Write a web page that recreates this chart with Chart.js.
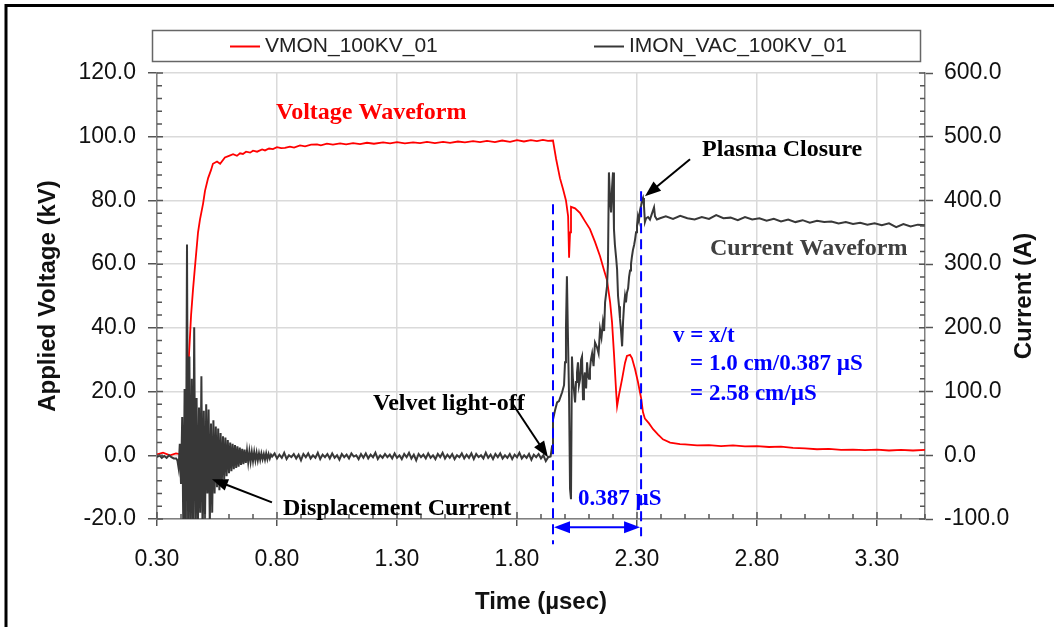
<!DOCTYPE html>
<html>
<head>
<meta charset="utf-8">
<script src="https://cdn.jsdelivr.net/npm/chart.js@4.4.1/dist/chart.umd.min.js"></script>
<style>
  html, body { margin: 0; padding: 0; background: #fff; }
  canvas { display: block; }
</style>
</head>
<body>
<canvas id="grafico" width="1054" height="627"></canvas>
<script>
// ==================== DATOS ====================
const serieVoltaje  = 'VMON_100KV_01';
const serieCorriente = 'IMON_VAC_100KV_01';

const xTicks  = [0.30, 0.80, 1.30, 1.80, 2.30, 2.80, 3.30];
const yTicks  = [-20, 0, 20, 40, 60, 80, 100, 120];
const y1Ticks = [-100, 0, 100, 200, 300, 400, 500, 600];

// Voltaje (kV)
const tVolt = [
  0.300, 0.325, 0.354, 0.379, 0.404, 0.421, 0.429, 0.433, 0.442, 0.450, 0.458, 0.471, 0.479, 0.492,
  0.500, 0.513, 0.525, 0.533, 0.550, 0.563, 0.583, 0.600,
  0.617, 0.633, 0.646, 0.658, 0.671, 0.688, 0.700, 0.717, 0.738, 0.750, 0.767, 0.783, 0.800, 0.817,
  0.833, 0.854, 0.871, 0.896, 0.917, 0.942, 0.967, 0.983, 1.008, 1.033, 1.063, 1.088, 1.117, 1.146,
  1.175, 1.204, 1.242, 1.271, 1.300, 1.333, 1.367, 1.396, 1.425, 1.458, 1.492, 1.521, 1.554, 1.583,
  1.617, 1.646, 1.675, 1.708, 1.738, 1.771, 1.800, 1.829, 1.858, 1.883, 1.908, 1.929, 1.950,
  1.963, 1.979, 1.992, 2.004, 2.013, 2.017, 2.021, 2.025, 2.042, 2.063, 2.083, 2.104, 2.125, 2.146,
  2.163, 2.175, 2.188, 2.196, 2.204, 2.213, 2.217, 2.225, 2.238, 2.250, 2.258, 2.271, 2.279, 2.292,
  2.304, 2.317, 2.325, 2.333, 2.350, 2.367, 2.388, 2.408, 2.438, 2.479,
  2.50, 2.55, 2.60, 2.65, 2.70, 2.75, 2.80, 2.85, 2.90, 2.95, 3.00, 3.05, 3.10, 3.15, 3.20, 3.25,
  3.30, 3.35, 3.40, 3.45, 3.50
];
const vVolt = [
  0.3, 0.8, 0.0, 0.6, 0.2, 1.0, 12, 31, 44, 52, 59, 70, 74, 79,
  83, 87, 89.5, 91.5, 92.2, 91.5, 93.5, 94.0,
  94.5, 94.0, 94.8, 94.6, 95.3, 95.0, 95.6, 95.3, 96.0, 95.7, 96.3, 96.1, 96.7, 96.4,
  96.5, 96.9, 96.6, 97.3, 97.0, 97.5, 97.6, 97.3, 97.8, 97.5, 97.9, 97.6, 98.0, 97.7,
  98.1, 97.8, 98.2, 97.9, 98.3, 97.9, 98.2, 98.0, 98.4, 98.0, 98.4, 98.1, 98.5, 98.2,
  98.6, 98.3, 98.7, 98.3, 98.8, 98.4, 98.9, 98.5, 98.9, 98.6, 99.0, 98.7, 98.8,
  93, 87, 83.5, 80, 75, 62, 70, 78, 77.5, 76, 73.5, 71, 67, 62.5,
  58, 55, 48, 41.7, 32, 20, 15.4, 19, 24, 29, 31.2, 31.5, 30.5, 27,
  23, 18, 13.5, 11.5, 10, 8.2, 6.5, 5, 4, 3.5,
  3.4, 3.1, 3.2, 2.9, 3.1, 2.8, 2.9, 2.6, 2.7, 2.3, 2.2, 1.9, 2.0, 1.7, 1.8, 1.6,
  1.8, 1.5, 1.7, 1.5, 1.7
];

// Corriente (A)
const tCorr = [
  0.300, 0.310, 0.320, 0.330, 0.340, 0.350, 0.360, 0.370, 0.380,
  0.385, 0.390, 0.395, 0.400, 0.405, 0.410, 0.415, 0.420, 0.425, 0.430, 0.435, 0.440, 0.445,
  0.450, 0.455, 0.460, 0.465, 0.470, 0.475, 0.480, 0.485, 0.490, 0.495, 0.500, 0.505, 0.510,
  0.515, 0.520, 0.525, 0.530, 0.535, 0.540, 0.545, 0.550, 0.555, 0.560, 0.565, 0.570, 0.575,
  0.580, 0.585, 0.590, 0.595, 0.600, 0.605, 0.610, 0.615, 0.620, 0.625, 0.630, 0.635, 0.640,
  0.645, 0.650, 0.655, 0.660, 0.665, 0.670, 0.675, 0.680, 0.685, 0.690, 0.695, 0.700, 0.705,
  0.710, 0.715, 0.720, 0.725, 0.730, 0.735, 0.740, 0.745, 0.750, 0.755, 0.760, 0.765, 0.770,
  0.775,
  0.78, 0.79, 0.80, 0.81, 0.82, 0.83, 0.84, 0.85, 0.86, 0.87,
  0.88, 0.89, 0.90, 0.91, 0.92, 0.93, 0.94, 0.95, 0.96, 0.97,
  0.98, 0.99, 1.00, 1.01, 1.02, 1.03, 1.04, 1.05, 1.06, 1.07,
  1.08, 1.09, 1.10, 1.11, 1.12, 1.13, 1.14, 1.15, 1.16, 1.17,
  1.18, 1.19, 1.20, 1.21, 1.22, 1.23, 1.24, 1.25, 1.26, 1.27,
  1.28, 1.29, 1.30, 1.31, 1.32, 1.33, 1.34, 1.35, 1.36, 1.37,
  1.38, 1.39, 1.40, 1.41, 1.42, 1.43, 1.44, 1.45, 1.46, 1.47,
  1.48, 1.49, 1.50, 1.51, 1.52, 1.53, 1.54, 1.55, 1.56, 1.57,
  1.58, 1.59, 1.60, 1.61, 1.62, 1.63, 1.64, 1.65, 1.66, 1.67,
  1.68, 1.69, 1.70, 1.71, 1.72, 1.73, 1.74, 1.75, 1.76, 1.77,
  1.78, 1.79, 1.80, 1.81, 1.82, 1.83, 1.84, 1.85, 1.86, 1.87,
  1.88, 1.89, 1.90, 1.91, 1.92, 1.93, 1.94,
  1.946, 1.950, 1.958, 1.967, 1.975, 1.988, 1.996, 2.000, 2.004, 2.008, 2.013, 2.017, 2.021,
  2.025, 2.029, 2.033, 2.038, 2.042, 2.046, 2.050, 2.054, 2.058, 2.063, 2.067, 2.071, 2.075,
  2.079, 2.083, 2.088, 2.092, 2.096, 2.100, 2.104, 2.108, 2.113, 2.119, 2.125, 2.133, 2.140,
  2.146, 2.152, 2.158, 2.163, 2.167, 2.175, 2.179, 2.183, 2.188, 2.192, 2.196,
  2.200, 2.204, 2.208, 2.213, 2.217, 2.221, 2.225, 2.229, 2.233, 2.238, 2.242, 2.246, 2.250,
  2.254, 2.258, 2.263, 2.267, 2.271, 2.275, 2.279, 2.283, 2.288, 2.292, 2.296, 2.300, 2.304,
  2.308, 2.313, 2.317, 2.321, 2.325, 2.329, 2.333, 2.338, 2.346, 2.354, 2.363,
  2.371, 2.375, 2.383, 2.396,
  2.42, 2.45, 2.48, 2.51, 2.54, 2.57, 2.60, 2.63, 2.66, 2.69, 2.72, 2.75, 2.78, 2.81, 2.84,
  2.87, 2.90, 2.93, 2.96, 2.99, 3.02, 3.05, 3.08, 3.11, 3.14, 3.17, 3.20, 3.23, 3.26, 3.29,
  3.32, 3.35, 3.38, 3.41, 3.44, 3.47, 3.50
];
const vCorr = [
  -3, 0, -4, -1, -4, 0, -3, -5, -5,
  -8, -20, 18, -45, 60, -130, 104, -140, 331, -150, 155, -125, 120,
  -135, 201, -110, 90, -140, 75, -90, 124, -130, 70, -105, 80, -60,
  72, -110, 50, -90, 55, -60, 45, -50, 42, -55, 35, -45, 30,
  -38, 28, -33, 24, -28, 20, -25, 18, -22, 16, -20, 14, -18,
  12, -15, 10, -14, 9, -12, 7, -11, 6, -10, 5, -9, 5,
  -8, 4, -8, 3, -7, 3, -6, 2, -7, 3, -6, 2, -5,
  1,
  -2, 3, -5, 1, -4, 4, -6, 0, -3, 2,
  -5, 1, -8, 2, -3, 3, -5, 0, -4, 4,
  -6, 1, -3, 2, -5, 3, -4, 0, -7, 2,
  -3, 1, -5, 3, -2, 0, -6, 2, -4, 3,
  -5, 1, -3, 4, -6, 0, -4, 2, -3, 1,
  -5, 3, -4, 0, -6, 2, -3, 4, -5, 1,
  -8, 2, -3, 1, -5, 3, -4, 0, -6, 2,
  -3, 4, -5, 1, -4, 2, -6, 0, -3, 3,
  -5, 1, -4, 3, -6, 2, -3, 0, -5, 4,
  -4, 1, -6, 2, -3, 3, -5, 0, -4, 2,
  -6, 1, -3, 4, -5, 0, -4, 2, -7, 1,
  -3, 2, -5, 0, -9, -3, -2,
  14, 56, 70, 83, 85, 99, 110, 146, 200, 281, 171, 90, -53,
  -69, 155, 120, 100, 83, 115, 130, 146, 110, 120, 150, 155, 88,
  118, 130, 105, 146, 125, 120, 135, 150, 160, 140, 177, 170, 160,
  198, 185, 209, 195, 240, 265, 300, 444, 400, 381, 420,
  444, 355, 330, 310, 292, 250, 234, 215, 198, 171, 210, 235, 250,
  240, 255, 262, 280, 290, 300, 312, 322, 330, 339, 350, 360, 375,
  368, 385, 392, 400, 404, 392, 366, 372, 374, 370, 380,
  389, 375, 370, 372,
  375, 371, 376, 372, 370, 374, 371, 377, 372, 373, 369, 374, 370, 372, 368,
  371, 367, 370, 366, 369, 365, 368, 366, 367, 364, 366, 363, 365, 362, 364,
  361, 364, 358, 363, 359, 362, 361
];

// ==================== ESTILO ====================
const SANS  = '"Liberation Sans", Arial, sans-serif';
const SERIF = '"Liberation Serif", "Times New Roman", serif';
const ROJO = '#ff0000';
const GRIS = '#383838';
const AZUL = '#0000ff';

function flecha(ctx, x1, y1, x2, y2, color, largo, ancho) {
    const a = Math.atan2(y2 - y1, x2 - x1);
    const c = Math.cos(a), s = Math.sin(a);
    ctx.strokeStyle = color; ctx.fillStyle = color; ctx.lineWidth = 2;
    ctx.beginPath();
    ctx.moveTo(x1, y1);
    ctx.lineTo(x2 - c * largo * 0.8, y2 - s * largo * 0.8);
    ctx.stroke();
    ctx.beginPath();
    ctx.moveTo(x2, y2);
    ctx.lineTo(x2 - largo * c + ancho / 2 * s, y2 - largo * s - ancho / 2 * c);
    ctx.lineTo(x2 - largo * c - ancho / 2 * s, y2 - largo * s + ancho / 2 * c);
    ctx.closePath();
    ctx.fill();
}

function texto(ctx, str, x, y, color, size) {
    ctx.fillStyle = color;
    ctx.font = `bold ${size}px ${SERIF}`;
    ctx.textAlign = 'left';
    ctx.textBaseline = 'middle';
    ctx.fillText(str, x, y);
}

// marcas menores, leyenda, marco y anotaciones
const decoracion = {
    id: 'decoracion',
    afterDraw(chart) {
        const ctx = chart.ctx;
        const { x, y, y1 } = chart.scales;
        const area = chart.chartArea;
        ctx.save();

        // marcas hacia dentro
        ctx.strokeStyle = '#555'; ctx.lineWidth = 1.5;
        ctx.beginPath();
        for (let i = 3; i <= 35; i++) {
            const px = x.getPixelForValue(i / 10);
            const l = (i - 3) % 5 === 0 ? 7 : 5;
            ctx.moveTo(px, area.bottom); ctx.lineTo(px, area.bottom - l);
        }
        for (let v = -20; v <= 120; v += 4) {
            const py = y.getPixelForValue(v);
            const l = v % 20 === 0 ? 6 : 5;
            ctx.moveTo(area.left, py); ctx.lineTo(area.left + l, py);
        }
        for (let v = -100; v <= 600; v += 20) {
            const py = y1.getPixelForValue(v);
            const l = v % 100 === 0 ? 6 : 5;
            ctx.moveTo(area.right, py); ctx.lineTo(area.right - l, py);
        }
        ctx.stroke();

        // título eje derecho (leído de abajo hacia arriba)
        ctx.save();
        ctx.translate(1024, (area.top + area.bottom) / 2);
        ctx.rotate(-Math.PI / 2);
        ctx.fillStyle = '#111';
        ctx.font = `bold 24px ${SANS}`;
        ctx.textAlign = 'center'; ctx.textBaseline = 'middle';
        ctx.fillText('Current (A)', 0, 0);
        ctx.restore();

        // leyenda
        ctx.strokeStyle = '#666'; ctx.lineWidth = 1.5;
        ctx.strokeRect(152.5, 30.5, 768, 31);
        const ds = chart.data.datasets;
        const items = [{ d: ds[1], x: 230 }, { d: ds[0], x: 594 }];
        ctx.font = `21px ${SANS}`;
        ctx.textAlign = 'left'; ctx.textBaseline = 'middle';
        items.forEach(it => {
            ctx.strokeStyle = it.d.borderColor; ctx.lineWidth = 2;
            ctx.beginPath(); ctx.moveTo(it.x, 46.5); ctx.lineTo(it.x + 30, 46.5); ctx.stroke();
            ctx.fillStyle = '#222';
            ctx.fillText(it.d.label, it.x + 35, 46);
        });

        // marco exterior
        ctx.strokeStyle = '#000'; ctx.lineWidth = 3;
        ctx.beginPath();
        ctx.moveTo(6, 627); ctx.lineTo(6, 5.5); ctx.lineTo(1054, 5.5);
        ctx.stroke();

        // anotaciones
        const X = v => x.getPixelForValue(v);
        const Y = v => y.getPixelForValue(v);
        texto(ctx, 'Voltage Waveform', X(0.796), Y(107.5), ROJO, 24);
        texto(ctx, 'Plasma Closure', X(2.571), Y(96.0), '#000', 24);
        texto(ctx, 'Current Waveform', X(2.604), Y(64.8), '#404040', 24);
        texto(ctx, 'v = x/t', X(2.45), Y(37.3), AZUL, 23);
        texto(ctx, '= 1.0 cm/0.387 \u00b5S', X(2.521), Y(28.5), AZUL, 23);
        texto(ctx, '= 2.58 cm/\u00b5S', X(2.521), Y(19.1), AZUL, 23);
        texto(ctx, 'Velvet light-off', X(1.20), Y(16.2), '#000', 24);
        texto(ctx, 'Displacement Current', X(0.825), Y(-16.7), '#000', 24);
        texto(ctx, '0.387 \u00b5S', X(2.054), Y(-13.6), AZUL, 23);

        flecha(ctx, X(2.521), Y(92.9), X(2.333), Y(81.3), '#000', 16, 12);
        flecha(ctx, X(1.783), Y(16.0), X(1.929), Y(-0.6), '#000', 16, 12);
        flecha(ctx, X(0.779), Y(-14.8), X(0.529), Y(-7.5), '#000', 16, 12);

        // líneas de tránsito
        ctx.strokeStyle = AZUL; ctx.lineWidth = 2;
        ctx.setLineDash([10, 6]);
        ctx.beginPath();
        ctx.moveTo(X(1.95), Y(78.8)); ctx.lineTo(X(1.95), Y(-27.9));
        ctx.moveTo(X(2.317), Y(82.9)); ctx.lineTo(X(2.317), Y(-25.4));
        ctx.stroke();
        ctx.setLineDash([]);
        const ya = Y(-22.6);
        ctx.beginPath(); ctx.moveTo(X(1.95) + 10, ya); ctx.lineTo(X(2.317) - 10, ya); ctx.stroke();
        flecha(ctx, X(2.0), ya, X(1.95) + 1, ya, AZUL, 16, 12);
        flecha(ctx, X(2.26), ya, X(2.317) - 1, ya, AZUL, 16, 12);

        ctx.restore();
    }
};

// ==================== GRÁFICO ====================
const puntos = (ts, vs) => ts.map((t, i) => ({ x: t, y: vs[i] }));
const tickFont = { family: SANS, size: 23 };
const titleFont = { family: SANS, size: 24, weight: 'bold' };

new Chart(document.getElementById('grafico').getContext('2d'), {
    type: 'line',
    data: {
        datasets: [
            { label: serieCorriente, data: puntos(tCorr, vCorr), yAxisID: 'y1', borderColor: GRIS, borderWidth: 2, order: 0 },
            { label: serieVoltaje, data: puntos(tVolt, vVolt), yAxisID: 'y', borderColor: ROJO, borderWidth: 1.8, order: 1 }
        ]
    },
    options: {
        responsive: false,
        animation: false,
        events: [],
        layout: { padding: { top: 73, left: 0, right: 0, bottom: 0 } },
        elements: { point: { radius: 0 }, line: { tension: 0 } },
        plugins: { legend: { display: false }, tooltip: { enabled: false } },
        scales: {
            x: {
                type: 'linear', min: 0.30, max: 3.50,
                afterBuildTicks: s => { s.ticks = xTicks.map(v => ({ value: v })); },
                afterFit: s => { s.height = 108; },
                ticks: { font: tickFont, color: '#111', padding: 20, maxRotation: 0, callback: v => v.toFixed(2) },
                grid: { color: '#dadada', lineWidth: 1.5, tickLength: 7, tickColor: '#555', tickWidth: 1.5 },
                border: { color: '#808080', width: 1.5 },
                title: { display: true, text: 'Time (\u00b5sec)', font: titleFont, color: '#111', padding: { top: 0, bottom: 10 } }
            },
            y: {
                position: 'left', min: -20, max: 120,
                afterBuildTicks: s => { s.ticks = yTicks.map(v => ({ value: v })); },
                afterFit: s => { s.width = 157; },
                ticks: { font: tickFont, color: '#111', padding: 12, callback: v => v.toFixed(1) },
                grid: { color: '#dadada', lineWidth: 1.5, tickLength: 9, tickColor: '#555', tickWidth: 1.5 },
                border: { color: '#808080', width: 1.5 },
                title: { display: true, text: 'Applied Voltage (kV)', font: titleFont, color: '#111', padding: { top: 34, bottom: 0 } }
            },
            y1: {
                position: 'right', min: -100, max: 600,
                afterBuildTicks: s => { s.ticks = y1Ticks.map(v => ({ value: v })); },
                afterFit: s => { s.width = 129; },
                ticks: { font: tickFont, color: '#111', padding: 11, callback: v => v.toFixed(1) },
                grid: { drawOnChartArea: false, tickLength: 8, tickColor: '#555', tickWidth: 1.5 },
                border: { color: '#808080', width: 1.5 }
            }
        }
    },
    plugins: [decoracion]
});
</script>
</body>
</html>
